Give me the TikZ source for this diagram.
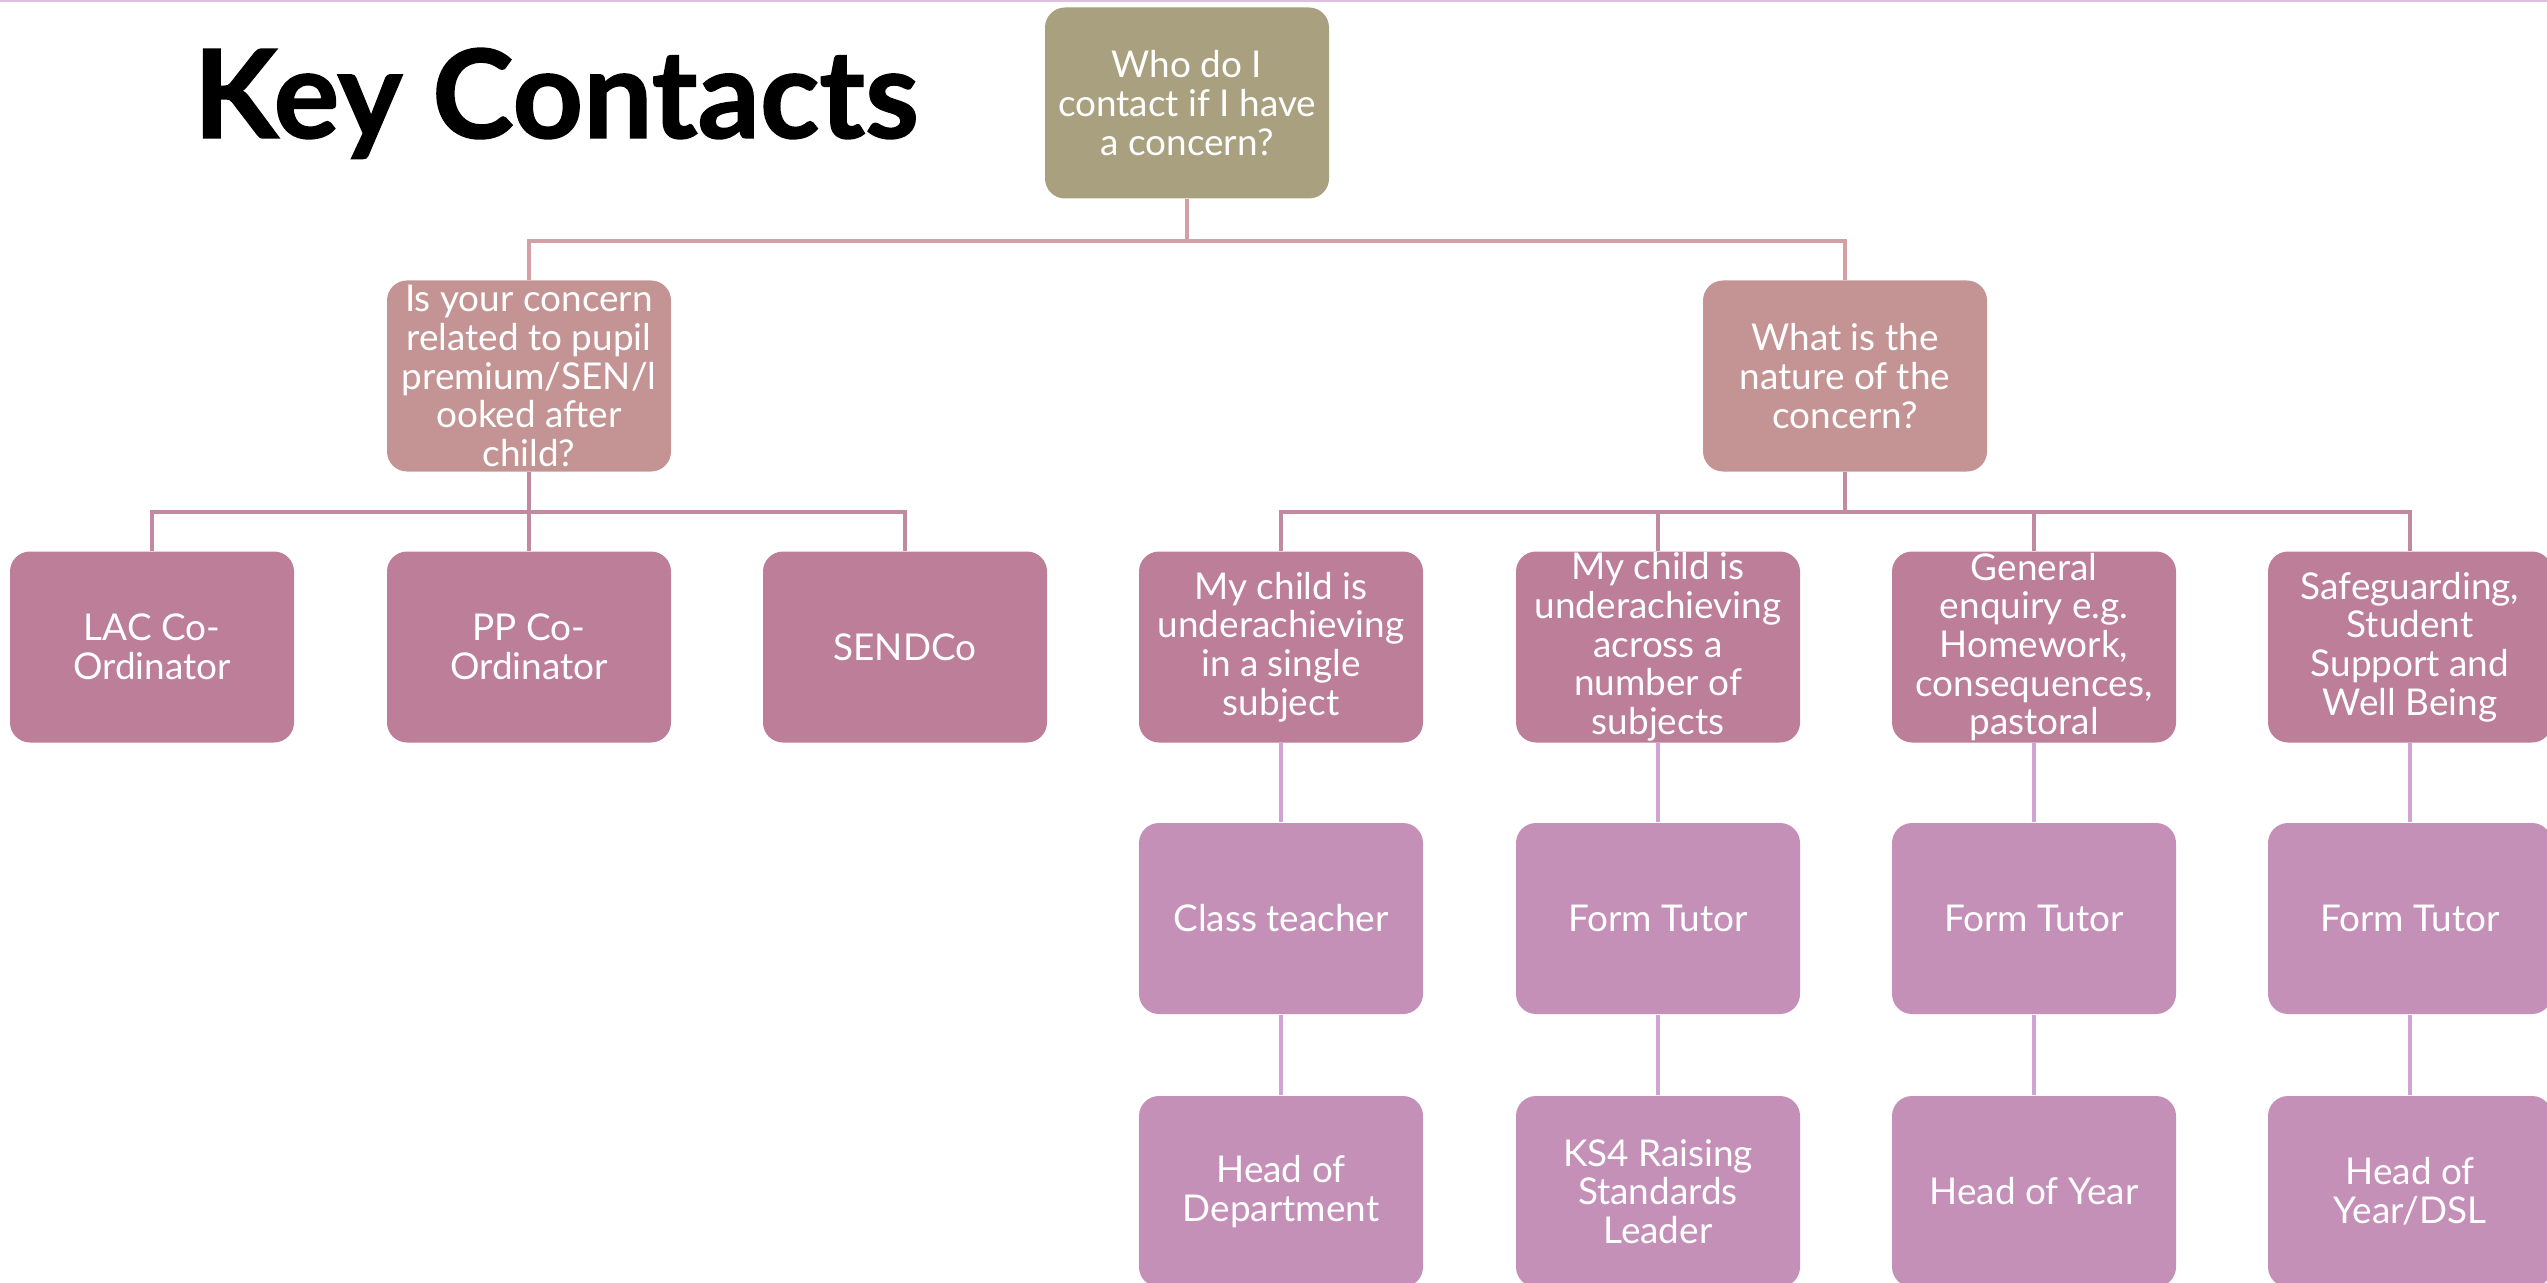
\documentclass[tikz,border=0pt]{standalone}
\usepackage{fontspec}
\setmainfont{Lato}
\newfontfamily\boxfont{Lato}
\newfontfamily\titlefont{Lato}[FakeBold=1.2]
\definecolor{whocol}{HTML}{A8A07E}
\definecolor{askcol}{HTML}{C49494}
\definecolor{kindcol}{HTML}{BC7E98}
\definecolor{staffcol}{HTML}{C490B8}
\definecolor{linkA}{HTML}{D4A0A6}
\definecolor{linkB}{HTML}{C28AA0}
\definecolor{linkC}{HTML}{D0A4D0}
\tikzset{
  box/.style={rounded corners=2mm, minimum width=2.84cm, minimum height=1.91cm,
    inner sep=0pt, align=center, text=white,
    font=\boxfont\fontsize{10.5}{11}\selectfont},
  whobox/.style={box, fill=whocol},
  askbox/.style={box, fill=askcol},
  kindbox/.style={box, fill=kindcol},
  staffbox/.style={box, fill=staffcol},
}

\begin{document}
\begin{tikzpicture}
      \useasboundingbox (0,0) rectangle (25.47,-12.82);
      % top rule
      \draw[color=linkC!70, line width=0.6pt] (0,-0.01) -- (25.47,-0.01);
      % title
      \node[anchor=base west, inner sep=0pt, font=\titlefont\fontsize{35}{38}\selectfont\bfseries] (title) at (1.93,-1.38) {Key Contacts};
      % question nodes
      \node[whobox] (who) at (11.87,-1.03) {Who do I\\contact if I have\\a concern?};
      \node[askbox] (pupil) at (5.29,-3.76) {Is your concern\\related to pupil\\premium/SEN/l\\ooked after\\child?};
      \node[askbox] (nature) at (18.45,-3.76) {What is the\\nature of the\\concern?};
      % third row
      \node[kindbox] (lac) at (1.52,-6.47) {LAC Co-\\Ordinator};
      \node[kindbox] (pp) at (5.29,-6.47) {PP Co-\\Ordinator};
      \node[kindbox] (sendco) at (9.05,-6.47) {SENDCo};
      \node[kindbox] (single) at (12.81,-6.47) {My child is\\underachieving\\in a single\\subject};
      \node[kindbox] (across) at (16.58,-6.47) {My child is\\underachieving\\across a\\number of\\subjects};
      \node[kindbox] (general) at (20.34,-6.47) {General\\enquiry e.g.\\Homework,\\consequences,\\pastoral};
      \node[kindbox] (safe) at (24.10,-6.47) {Safeguarding,\\Student\\Support and\\Well Being};
      % first contacts
      \node[staffbox] (teacher) at (12.81,-9.185) {Class teacher};
      \node[staffbox] (tutorA) at (16.58,-9.185) {Form Tutor};
      \node[staffbox] (tutorB) at (20.34,-9.185) {Form Tutor};
      \node[staffbox] (tutorC) at (24.10,-9.185) {Form Tutor};
      % second contacts
      \node[staffbox] (hod) at (12.81,-11.915) {Head of\\Department};
      \node[staffbox] (ksfour) at (16.58,-11.915) {KS4 Raising\\Standards\\Leader};
      \node[staffbox] (hoy) at (20.34,-11.915) {Head of Year};
      \node[staffbox] (dsl) at (24.10,-11.915) {Head of\\Year/DSL};
      % lines
      \draw[linkA, line width=1pt] (who.south) -- ++(0,-0.42) -| (pupil.north);
      \draw[linkA, line width=1pt] (who.south) -- ++(0,-0.42) -| (nature.north);
      \draw[linkB, line width=1pt] (pupil.south) -- ++(0,-0.40) -| (lac.north);
      \draw[linkB, line width=1pt] (pupil.south) -- (pp.north);
      \draw[linkB, line width=1pt] (pupil.south) -- ++(0,-0.40) -| (sendco.north);
      \draw[linkB, line width=1pt] (nature.south) -- ++(0,-0.40) -| (single.north);
      \draw[linkB, line width=1pt] (nature.south) -- ++(0,-0.40) -| (across.north);
      \draw[linkB, line width=1pt] (nature.south) -- ++(0,-0.40) -| (general.north);
      \draw[linkB, line width=1pt] (nature.south) -- ++(0,-0.40) -| (safe.north);
      \draw[linkC, line width=1pt] (single) -- (teacher);
      \draw[linkC, line width=1pt] (across) -- (tutorA);
      \draw[linkC, line width=1pt] (general) -- (tutorB);
      \draw[linkC, line width=1pt] (safe) -- (tutorC);
      \draw[linkC, line width=1pt] (teacher) -- (hod);
      \draw[linkC, line width=1pt] (tutorA) -- (ksfour);
      \draw[linkC, line width=1pt] (tutorB) -- (hoy);
      \draw[linkC, line width=1pt] (tutorC) -- (dsl);
    \end{tikzpicture}
\end{document}
